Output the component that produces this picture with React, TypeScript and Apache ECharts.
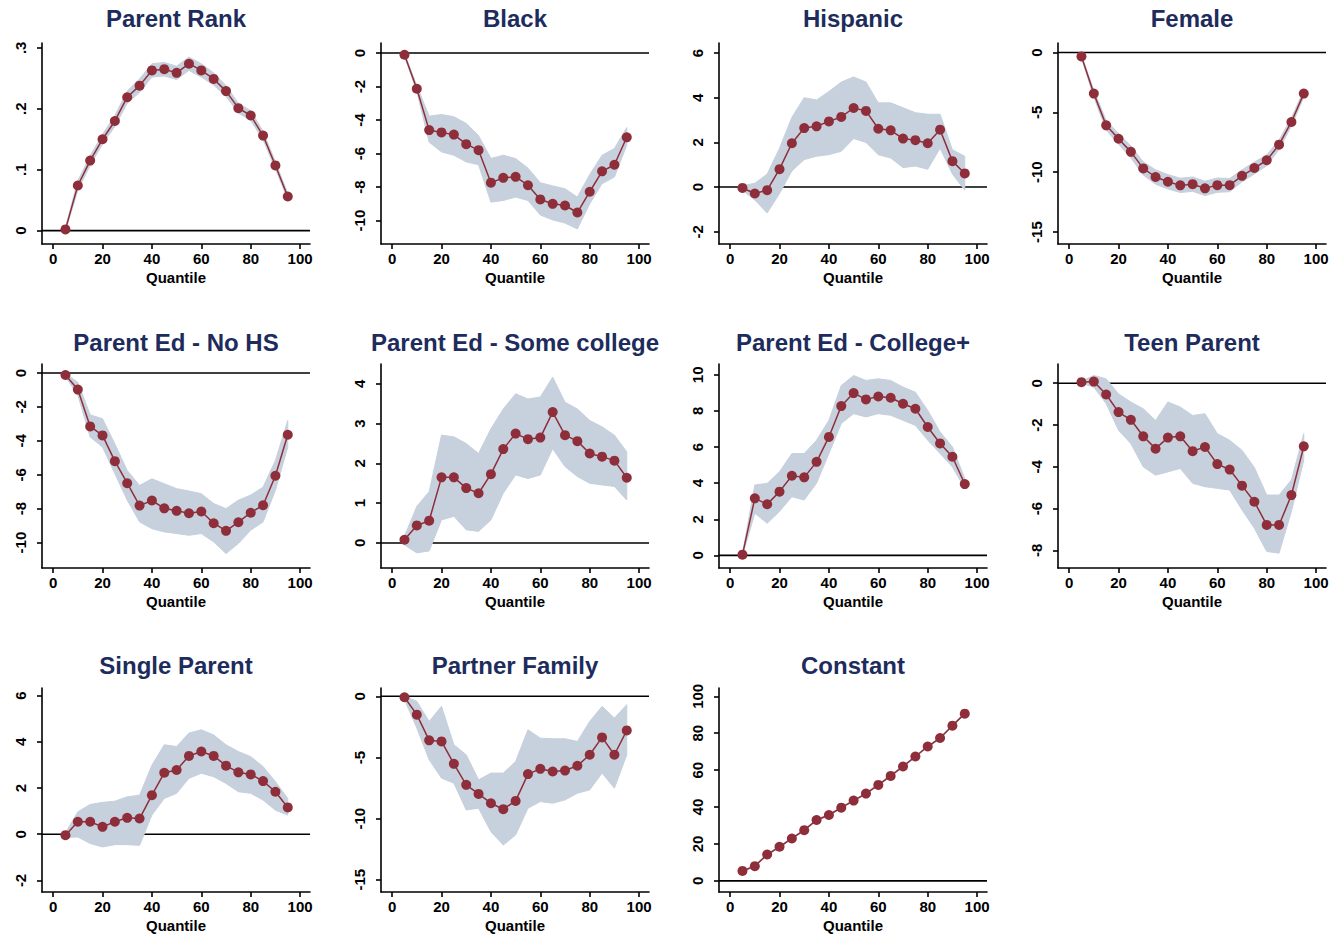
import React, { useEffect, useRef } from 'react';
import * as echarts from 'echarts';

// Quantile grid on which every coefficient was estimated
const QUANTILES = [5, 10, 15, 20, 25, 30, 35, 40, 45, 50, 55, 60, 65, 70, 75, 80, 85, 90, 95];
const X_TICKS = [0, 20, 40, 60, 80, 100];
const X_MIN = -4.5;
const X_MAX = 104;

// Parent Rank
const rankEst = [0.002, 0.074, 0.115, 0.15, 0.18, 0.219, 0.238, 0.263, 0.265, 0.259, 0.274, 0.263, 0.249, 0.229, 0.201, 0.189, 0.156, 0.107, 0.056];
const rankLo = [-0.001, 0.066, 0.107, 0.142, 0.171, 0.209, 0.227, 0.252, 0.254, 0.248, 0.263, 0.252, 0.239, 0.22, 0.193, 0.181, 0.149, 0.101, 0.051];
const rankHi = [0.005, 0.082, 0.123, 0.158, 0.189, 0.229, 0.249, 0.274, 0.276, 0.27, 0.285, 0.274, 0.259, 0.238, 0.209, 0.197, 0.163, 0.113, 0.061];
const rankTicks = [0, 0.1, 0.2, 0.3];

// Black
const blackEst = [-0.1, -2.13, -4.6, -4.74, -4.87, -5.44, -5.8, -7.74, -7.45, -7.39, -7.89, -8.74, -9.0, -9.1, -9.52, -8.28, -7.06, -6.67, -5.03];
const blackLo = [-0.2, -2.3, -5.32, -5.9, -6.1, -6.5, -6.67, -8.9, -8.8, -8.6, -8.8, -9.67, -9.96, -10.15, -10.5, -9.0, -7.8, -7.4, -5.5];
const blackHi = [0.0, -1.95, -3.77, -3.67, -3.8, -4.2, -4.93, -6.29, -6.1, -6.3, -6.87, -7.74, -7.93, -8.1, -8.6, -7.25, -6.1, -5.7, -4.45];
const blackTicks = [0, -2, -4, -6, -8, -10];

// Hispanic
const hispEst = [-0.04, -0.29, -0.14, 0.8, 1.96, 2.64, 2.72, 2.94, 3.14, 3.54, 3.41, 2.61, 2.54, 2.17, 2.1, 1.96, 2.57, 1.16, 0.61];
const hispLo = [-0.14, -0.58, -1.16, -0.29, 0.72, 1.23, 1.38, 1.45, 1.6, 2.17, 2.0, 1.45, 1.3, 0.87, 0.94, 0.8, 1.74, 0.58, -0.14];
const hispHi = [0.06, 0.17, 0.58, 1.74, 3.12, 4.0, 3.9, 4.28, 4.7, 4.93, 4.7, 3.77, 3.77, 3.55, 3.33, 3.26, 3.26, 1.67, 1.38];
const hispTicks = [-2, 0, 2, 4, 6];

// Female
const femaleEst = [-0.32, -3.43, -6.08, -7.2, -8.3, -9.68, -10.4, -10.8, -11.1, -11.0, -11.35, -11.08, -11.08, -10.3, -9.65, -9.0, -7.7, -5.8, -3.43];
const femaleLo = [-0.42, -3.73, -6.48, -7.65, -8.8, -10.23, -11.0, -11.4, -11.7, -11.6, -11.95, -11.68, -11.63, -10.8, -10.15, -9.45, -8.1, -6.15, -3.73];
const femaleHi = [-0.22, -3.13, -5.68, -6.75, -7.8, -9.13, -9.8, -10.2, -10.5, -10.4, -10.75, -10.48, -10.53, -9.8, -9.15, -8.55, -7.3, -5.45, -3.13];
const femaleTicks = [0, -5, -10, -15];

// Parent Ed - No HS
const noHsEst = [-0.12, -0.98, -3.15, -3.68, -5.2, -6.5, -7.82, -7.52, -7.98, -8.13, -8.27, -8.17, -8.86, -9.31, -8.8, -8.24, -7.8, -6.06, -3.64];
const noHsLo = [-0.22, -1.3, -3.78, -4.37, -5.94, -7.5, -8.78, -9.18, -9.37, -9.47, -9.57, -9.47, -9.96, -10.65, -10.06, -9.27, -8.78, -6.92, -4.37];
const noHsHi = [-0.02, -0.55, -2.47, -2.7, -4.18, -5.75, -6.63, -6.24, -6.53, -6.82, -6.96, -7.12, -7.7, -8.0, -7.5, -7.2, -6.73, -5.16, -2.8];
const noHsTicks = [0, -2, -4, -6, -8, -10];

// Parent Ed - Some college
const someColEst = [0.08, 0.44, 0.56, 1.65, 1.65, 1.38, 1.25, 1.73, 2.36, 2.75, 2.61, 2.65, 3.29, 2.71, 2.56, 2.25, 2.17, 2.07, 1.64];
const someColLo = [-0.05, -0.25, -0.2, 0.58, 0.67, 0.33, 0.29, 0.58, 1.25, 1.71, 1.62, 1.71, 2.37, 1.92, 1.67, 1.5, 1.46, 1.42, 1.08];
const someColHi = [0.17, 0.92, 1.29, 2.71, 2.67, 2.5, 2.25, 2.87, 3.37, 3.75, 3.62, 3.67, 4.17, 3.54, 3.37, 3.08, 2.92, 2.71, 2.29];
const someColTicks = [0, 1, 2, 3, 4];

// Parent Ed - College+
const collegeEst = [0.04, 3.16, 2.83, 3.53, 4.41, 4.32, 5.18, 6.56, 8.27, 8.99, 8.64, 8.8, 8.73, 8.4, 8.12, 7.11, 6.2, 5.46, 3.95];
const collegeLo = [-0.02, 2.33, 1.78, 2.43, 3.25, 3.07, 4.0, 5.64, 7.3, 7.85, 7.67, 7.85, 7.76, 7.48, 7.2, 6.38, 5.64, 4.9, 3.71];
const collegeHi = [0.1, 3.9, 3.99, 4.63, 5.64, 5.64, 6.38, 7.48, 9.41, 9.96, 9.69, 9.78, 9.69, 9.32, 9.04, 8.03, 6.84, 6.01, 4.26];
const collegeTicks = [0, 2, 4, 6, 8, 10];

// Teen Parent
const teenEst = [0.05, 0.08, -0.54, -1.38, -1.75, -2.54, -3.13, -2.6, -2.54, -3.25, -3.05, -3.87, -4.13, -4.9, -5.67, -6.78, -6.78, -5.35, -3.02];
const teenLo = [0.0, -0.19, -0.98, -2.25, -2.89, -4.0, -4.4, -4.24, -4.08, -4.79, -4.95, -5.03, -5.11, -6.06, -6.94, -8.05, -8.13, -6.14, -3.68];
const teenHi = [0.1, 0.37, 0.21, -0.51, -0.9, -1.22, -1.78, -0.9, -1.14, -1.54, -1.46, -2.41, -2.73, -3.21, -4.03, -5.35, -5.35, -4.63, -2.41];
const teenTicks = [0, -2, -4, -6, -8];

// Single Parent
const singleEst = [-0.04, 0.54, 0.54, 0.32, 0.54, 0.71, 0.68, 1.69, 2.66, 2.78, 3.39, 3.58, 3.39, 2.97, 2.68, 2.59, 2.3, 1.84, 1.16];
const singleLo = [-0.14, -0.12, -0.4, -0.55, -0.45, -0.45, -0.48, 0.83, 1.55, 1.77, 2.42, 2.64, 2.49, 2.2, 1.84, 1.77, 1.48, 1.04, 0.83];
const singleHi = [0.06, 0.97, 1.29, 1.38, 1.43, 1.62, 1.69, 2.99, 3.87, 3.8, 4.38, 4.52, 4.3, 3.87, 3.58, 3.36, 2.93, 2.28, 1.55];
const singleTicks = [-2, 0, 2, 4, 6];

// Partner Family
const partnerEst = [-0.08, -1.5, -3.6, -3.69, -5.52, -7.24, -7.98, -8.74, -9.23, -8.55, -6.36, -5.93, -6.15, -6.07, -5.68, -4.78, -3.36, -4.78, -2.79];
const partnerLo = [-0.27, -2.6, -5.19, -6.69, -7.1, -9.29, -9.15, -11.07, -12.16, -11.34, -9.15, -8.61, -8.74, -8.47, -7.92, -7.65, -6.28, -7.51, -4.78];
const partnerHi = [0.0, -0.41, -2.05, -0.82, -3.96, -4.78, -6.83, -6.28, -6.28, -5.33, -2.73, -3.42, -3.47, -3.47, -3.69, -2.05, -0.82, -1.78, -0.68];
const partnerTicks = [0, -5, -10, -15];

// Constant
const constEst = [5.4, 8.0, 14.3, 18.5, 23.0, 27.5, 33.0, 35.7, 39.7, 43.5, 47.3, 52.0, 56.9, 62.0, 67.4, 72.8, 77.4, 84.1, 90.6];
const constLo = [5.0, 7.6, 13.9, 18.1, 22.6, 27.1, 32.6, 35.3, 39.3, 43.1, 46.9, 51.6, 56.5, 61.6, 67.0, 72.4, 77.0, 83.7, 90.2];
const constHi = [5.8, 8.4, 14.7, 18.9, 23.4, 27.9, 33.4, 36.1, 40.1, 43.9, 47.7, 52.4, 57.3, 62.4, 67.8, 73.2, 77.8, 84.5, 91.0];
const constTicks = [0, 20, 40, 60, 80, 100];

type Panel = {
  name: string;
  est: number[];
  lo: number[];
  hi: number[];
  ticks: number[];
  yMin: number;
  yMax: number;
};

const PANELS: Panel[] = [
  { name: 'Parent Rank', est: rankEst, lo: rankLo, hi: rankHi, ticks: rankTicks, yMin: -0.022, yMax: 0.308 },
  { name: 'Black', est: blackEst, lo: blackLo, hi: blackHi, ticks: blackTicks, yMin: -11.4, yMax: 0.6 },
  { name: 'Hispanic', est: hispEst, lo: hispLo, hi: hispHi, ticks: hispTicks, yMin: -2.55, yMax: 6.45 },
  { name: 'Female', est: femaleEst, lo: femaleLo, hi: femaleHi, ticks: femaleTicks, yMin: -16, yMax: 0.8 },
  { name: 'Parent Ed - No HS', est: noHsEst, lo: noHsLo, hi: noHsHi, ticks: noHsTicks, yMin: -11.5, yMax: 0.53 },
  { name: 'Parent Ed - Some college', est: someColEst, lo: someColLo, hi: someColHi, ticks: someColTicks, yMin: -0.63, yMax: 4.5 },
  { name: 'Parent Ed - College+', est: collegeEst, lo: collegeLo, hi: collegeHi, ticks: collegeTicks, yMin: -0.7, yMax: 10.6 },
  { name: 'Teen Parent', est: teenEst, lo: teenLo, hi: teenHi, ticks: teenTicks, yMin: -8.84, yMax: 0.92 },
  { name: 'Single Parent', est: singleEst, lo: singleLo, hi: singleHi, ticks: singleTicks, yMin: -2.5, yMax: 6.33 },
  { name: 'Partner Family', est: partnerEst, lo: partnerLo, hi: partnerHi, ticks: partnerTicks, yMin: -16, yMax: 0.68 },
  { name: 'Constant', est: constEst, lo: constLo, hi: constHi, ticks: constTicks, yMin: -6, yMax: 104.5 },
];

// Layout of the 4 x 3 panel grid
const COL_LEFT = [42, 381, 719, 1058];
const PLOT_W = 268;
const ROW_TOP = [43, 364, 688];
const ROW_H = [201, 204, 204];
const TITLE_Y = [19, 343, 666];

const FONT = '"Liberation Sans", Arial, Helvetica, sans-serif';
const RED = '#8f2e3b';
const BAND = '#c6d1dd';
const NAVY = '#1d2c5c';

function fmtY(v: number): string {
  const s = String(Math.round(v * 1000) / 1000);
  return s.replace(/^0\./, '.').replace(/^-0\./, '-.');
}

export default function App() {
  const ref = useRef<HTMLDivElement>(null);

  useEffect(() => {
    document.body.style.margin = '0';
    if (!ref.current) return;
    const chart = echarts.init(ref.current, null, { renderer: 'svg' });

    const grid: any[] = [];
    const xAxis: any[] = [];
    const yAxis: any[] = [];
    const series: any[] = [];
    const title: any[] = [];

    const axisLine = { show: true, onZero: false, lineStyle: { color: '#000', width: 1.6 } };
    const tickStyle = { color: '#000', width: 1.6 };
    const labelStyle = { color: '#000', fontFamily: FONT, fontWeight: 'bold' as const, fontSize: 15 };

    PANELS.forEach((p, i) => {
      const col = i % 4;
      const row = Math.floor(i / 4);
      const left = COL_LEFT[col];
      const top = ROW_TOP[row];

      grid.push({ left, top, width: PLOT_W, height: ROW_H[row] });

      title.push({
        text: p.name,
        left: left + PLOT_W / 2,
        top: TITLE_Y[row] - 13,
        textAlign: 'center',
        padding: 0,
        textStyle: { color: NAVY, fontFamily: FONT, fontWeight: 'bold', fontSize: 24 },
      });

      xAxis.push({
        type: 'value',
        gridIndex: i,
        min: X_MIN,
        max: X_MAX,
        name: 'Quantile',
        nameLocation: 'middle',
        nameGap: 26,
        nameTextStyle: labelStyle,
        axisLine,
        axisTick: { show: true, customValues: X_TICKS, length: 5, lineStyle: tickStyle },
        axisLabel: { ...labelStyle, customValues: X_TICKS, margin: 7 },
        splitLine: { show: false },
      });

      yAxis.push({
        type: 'value',
        gridIndex: i,
        min: p.yMin,
        max: p.yMax,
        axisLine,
        axisTick: { show: true, customValues: p.ticks, length: 5, lineStyle: tickStyle },
        axisLabel: { ...labelStyle, customValues: p.ticks, rotate: 90, margin: 14, formatter: fmtY },
        splitLine: { show: false },
      });

      // zero reference line, drawn under the confidence band
      series.push({
        type: 'line',
        xAxisIndex: i,
        yAxisIndex: i,
        data: [[X_MIN, 0], [X_MAX, 0]],
        symbol: 'none',
        silent: true,
        lineStyle: { color: '#000', width: 1.6 },
        z: 1,
      });

      // confidence band as a single polygon: upper bound left to right, lower bound back
      series.push({
        type: 'custom',
        xAxisIndex: i,
        yAxisIndex: i,
        silent: true,
        z: 2,
        data: QUANTILES.map((q, k) => [q, p.lo[k], p.hi[k]]),
        encode: { x: 0, y: [1, 2] },
        renderItem: (params: any, api: any) => {
          if (params.dataIndex !== 0) return null;
          const upper = QUANTILES.map((q, k) => api.coord([q, p.hi[k]]));
          const lower = QUANTILES.map((q, k) => api.coord([q, p.lo[k]])).reverse();
          return {
            type: 'polygon',
            shape: { points: upper.concat(lower) },
            style: { fill: BAND, stroke: BAND, lineWidth: 1 },
          };
        },
      });

      // point estimates
      series.push({
        type: 'line',
        xAxisIndex: i,
        yAxisIndex: i,
        data: QUANTILES.map((q, k) => [q, p.est[k]]),
        symbol: 'circle',
        symbolSize: 10,
        showAllSymbol: true,
        itemStyle: { color: RED },
        lineStyle: { color: RED, width: 1.5 },
        z: 3,
      });
    });

    chart.setOption({
      animation: false,
      backgroundColor: '#ffffff',
      title,
      grid,
      xAxis,
      yAxis,
      series,
    });

    return () => chart.dispose();
  }, []);

  return <div ref={ref} style={{ width: 1333, height: 938 }} />;
}
